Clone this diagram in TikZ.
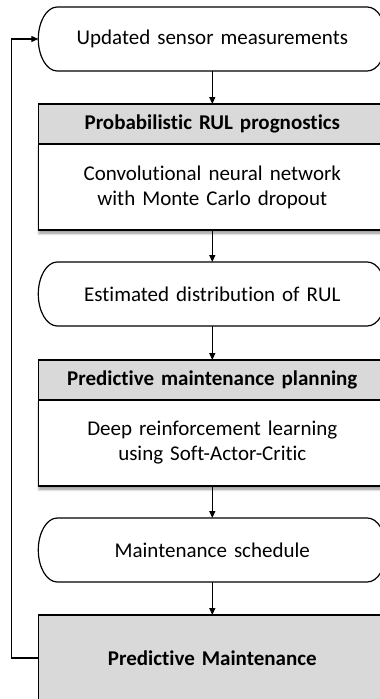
\documentclass[tikz,border=0pt]{standalone}
\usepackage{fontspec}
\setmainfont{Carlito}[Ligatures=NoCommon]
\usetikzlibrary{arrows.meta, positioning, shadows.blur}
\definecolor{headgray}{HTML}{D9D9D9}

\begin{document}
\begin{tikzpicture}[>={Triangle[length=7pt,width=6pt]}, line width=1.2pt,
  every node/.style={outer sep=0pt, align=center, text width=330pt,
    font=\fontsize{21}{25}\selectfont},
  pill/.style={minimum width=348pt, minimum height=64pt},
  head/.style={draw, fill=headgray, minimum width=348pt, minimum height=40pt,
    font=\fontsize{21}{25}\selectfont\bfseries},
  body/.style={draw, fill=white, minimum width=348pt, minimum height=86pt,
    blur shadow={shadow xshift=1pt, shadow yshift=-3pt, shadow blur radius=3pt, shadow opacity=45}}]
  \useasboundingbox (0,0) rectangle (380pt,-699pt);
  % Flow
  \node[pill] (sensor) at (212.3pt,-39pt) {Updated sensor measurements};
  \node[head, below=33pt of sensor] (rulhead) {Probabilistic RUL prognostics};
  \node[body, below=0pt of rulhead] (rulbody) {Convolutional neural network\\with Monte Carlo dropout};
  \node[pill, below=32pt of rulbody] (dist) {Estimated distribution of RUL};
  \node[head, below=34pt of dist] (pmphead) {Predictive maintenance planning};
  \node[body, below=0pt of pmphead] (pmpbody) {Deep reinforcement learning\\using Soft-Actor-Critic};
  \node[pill, below=32pt of pmpbody] (sched) {Maintenance schedule};
  \node[head, minimum height=86pt, below=33pt of sched] (pm) {Predictive Maintenance};
  % Terminator outlines
  \foreach \n in {sensor, dist, sched}
    \draw ([xshift=19pt]\n.north west) -- ([xshift=-19pt]\n.north east)
      arc[start angle=90, end angle=-90, x radius=19pt, y radius=32pt]
      -- ([xshift=19pt]\n.south west)
      arc[start angle=270, end angle=90, x radius=19pt, y radius=32pt] -- cycle;
  % Arrows
  \draw[->] (sensor) -- (rulhead);
  \draw[->] (rulbody) -- (dist);
  \draw[->] (dist) -- (pmphead);
  \draw[->] (pmpbody) -- (sched);
  \draw[->] (sched) -- (pm);
  % Feedback loop
  \draw[->] (pm.west) -- ++(-26.6pt,0) |- (sensor.west);
\end{tikzpicture}
\end{document}
